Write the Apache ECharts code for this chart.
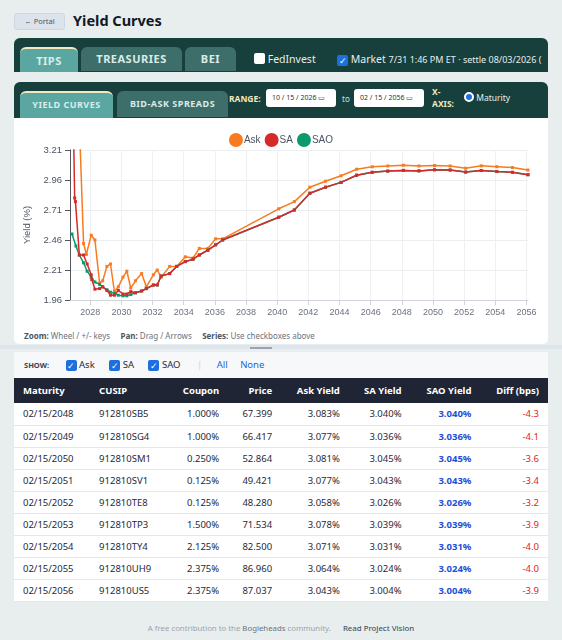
<!DOCTYPE html>
<html><head><meta charset="utf-8">
<script src="https://cdn.jsdelivr.net/npm/echarts@6/dist/echarts.min.js"></script>
<style>
*{box-sizing:border-box}
body{margin:0;width:562px;height:640px;background:#e8eeee;font-family:"Noto Sans",sans-serif;position:relative;overflow:hidden;color:#1f2937}
.abs{position:absolute}
.bar{background:#173f3b;border-radius:6px 6px 0 0}
.tab{position:absolute;color:#d8ece9;font-weight:bold;text-align:center;border-radius:6px 6px 0 0;background:#3e6e6a;letter-spacing:0.5px}
.tab.on{background:#5aa7a2;border-top:2px solid #f3e7c0}
.cb{display:inline-block;width:11px;height:11px;border-radius:2px;vertical-align:-1px}
table{border-collapse:collapse;width:534px;font-size:9.5px}
th{background:#1f2535;color:#fff;font-weight:bold;height:25px;padding:0 9px}
td{height:22.1px;padding:0 9px;border-bottom:1px solid #e5e7eb;background:#fff}
.r{text-align:right}.l{text-align:left}
</style></head><body>
<div class="abs" style="left:14px;top:13px;width:51px;height:17px;background:#dde3ea;border:1px solid #cfd6df;border-radius:3px;font-size:7.5px;color:#4b5563;text-align:center;line-height:15px">← Portal</div>
<div class="abs" style="left:73px;top:10px;font-size:14.5px;font-weight:bold;color:#111827">Yield Curves</div>

<div class="abs bar" style="left:14px;top:38px;width:534px;height:34px"></div>
<div class="tab on" style="left:20px;top:47px;width:58px;height:25px;font-size:11px;line-height:23px">TIPS</div>
<div class="tab" style="left:81px;top:47px;width:101px;height:24px;font-size:11px;line-height:24px">TREASURIES</div>
<div class="tab" style="left:185px;top:47px;width:51px;height:24px;font-size:11px;line-height:24px">BEI</div>
<div class="abs" style="left:254px;top:52px;font-size:10.5px;color:#e5efee"><span class="cb" style="background:#fff"></span> FedInvest</div>
<div class="abs" style="left:337px;top:52px;font-size:10.5px;color:#e5efee;white-space:nowrap"><span class="cb" style="background:#1d6fe0;color:#fff;font-size:9px;line-height:11px;text-align:center">✓</span> Market <span style="font-size:9px">7/31 1:46 PM ET · settle 08/03/2026 (</span></div>

<div class="abs bar" style="left:14px;top:82px;width:534px;height:36px"></div>
<div class="tab on" style="left:20px;top:91px;width:93px;height:27px;font-size:9px;line-height:24px">YIELD CURVES</div>
<div class="tab" style="left:117px;top:91px;width:111px;height:26px;font-size:9px;line-height:26px">BID-ASK SPREADS</div>
<div class="abs" style="left:229px;top:93px;font-size:8.5px;font-weight:bold;color:#f3e7c0">RANGE:</div>
<div class="abs" style="left:266px;top:89px;width:70px;height:18px;background:#fff;border-radius:3px;font-size:7px;line-height:18px;padding-left:6px;color:#333">10 / 15 / 2026 ▭</div>
<div class="abs" style="left:342px;top:93px;font-size:8px;color:#cfe0dd">to</div>
<div class="abs" style="left:354px;top:89px;width:70px;height:18px;background:#fff;border-radius:3px;font-size:7px;line-height:18px;padding-left:6px;color:#333">02 / 15 / 2056 ▭</div>
<div class="abs" style="left:432px;top:86px;font-size:8.5px;font-weight:bold;color:#f3e7c0;line-height:12px">X-<br>AXIS:</div>
<div class="abs" style="left:464px;top:92px;font-size:8.5px;color:#e5efee;white-space:nowrap"><span style="display:inline-block;width:10px;height:10px;border-radius:50%;background:#1d6fe0;border:2px solid #fff;vertical-align:-1px"></span> Maturity</div>

<div class="abs" style="left:14px;top:118px;width:534px;height:226px;background:#fff;border-radius:0 0 5px 5px"></div>
<div id="c" class="abs" style="left:14px;top:118px;width:534px;height:205px"></div>
<div class="abs" style="left:24px;top:330px;font-size:8px;color:#6b7280;white-space:nowrap"><b style="color:#4b5563">Zoom:</b> Wheel / +/- keys &nbsp;&nbsp;&nbsp; <b style="color:#4b5563">Pan:</b> Drag / Arrows &nbsp;&nbsp;&nbsp; <b style="color:#4b5563">Series:</b> Use checkboxes above</div>
<div class="abs" style="left:0;top:345px;width:562px;height:4px;background:#dfe5ec"></div>
<div class="abs" style="left:250px;top:347px;width:22px;height:2px;background:#9ca3af"></div>

<div class="abs" style="left:14px;top:352px;width:534px;height:26px;background:#f6f8fa;font-size:9.5px;line-height:26px;white-space:nowrap">
<span style="margin-left:10px;font-size:7.5px;font-weight:bold;color:#374151">SHOW:</span>
<span style="margin-left:14px" class="cb"></span> Ask
<span style="margin-left:12px" class="cb"></span> SA
<span style="margin-left:12px" class="cb"></span> SAO
<span style="margin-left:14px;color:#d1d5db">|</span>
<span style="margin-left:12px;color:#1d5fe0">All</span>
<span style="margin-left:10px;color:#1d5fe0">None</span>
</div>
<div class="abs" style="left:14px;top:378px" id="tbl"></div>
<div class="abs" style="left:0;top:623px;width:562px;text-align:center;font-size:7.8px;color:#9ca3af;white-space:nowrap">A free contribution to the <span style="color:#6b7280">Bogleheads</span> community. &nbsp;&nbsp;&nbsp;&nbsp; <span style="color:#4b5563;font-weight:500">Read Project Vision</span></div>

<script>
document.querySelectorAll('.cb').forEach(function(e,i){ if(i>1){e.style.background='#1d6fe0';e.style.color='#fff';e.style.fontSize='9px';e.style.lineHeight='11px';e.style.textAlign='center';e.textContent='✓';}});

// Chart data: [maturity (year), yield %]
var askData = [[2026.83,5.2],[2027.57,2.43],[2027.75,2.34],[2028.06,2.50],[2028.3,2.46],[2028.6,2.10],[2028.8,2.12],[2029.07,2.24],[2029.3,2.26],[2029.55,2.03],[2029.8,2.07],[2030.1,2.15],[2030.35,2.20],[2030.6,2.06],[2030.9,2.12],[2031.3,2.18],[2031.6,2.07],[2032.05,2.17],[2032.3,2.21],[2032.55,2.15],[2033.1,2.24],[2033.55,2.24],[2034.1,2.32],[2034.6,2.31],[2035.0,2.39],[2035.55,2.39],[2036.05,2.47],[2036.5,2.47],[2040.1,2.72],[2041.1,2.78],[2042.1,2.90],[2043.1,2.95],[2044.1,2.995],[2045.1,3.05],[2046.1,3.07],[2047.1,3.077],[2048.1,3.083],[2049.1,3.077],[2050.1,3.081],[2051.1,3.077],[2052.1,3.058],[2053.1,3.078],[2054.1,3.071],[2055.1,3.064],[2056.1,3.043]];
var saData = [[2026.83,4.1],[2027.0,2.81],[2027.05,2.78],[2027.3,2.335],[2027.57,2.335],[2027.8,2.26],[2028.06,2.17],[2028.1,2.13],[2028.3,2.05],[2028.6,2.055],[2028.8,2.07],[2029.07,2.04],[2029.3,2.00],[2029.55,2.00],[2029.8,2.04],[2030.1,2.01],[2030.35,2.01],[2030.6,2.03],[2030.9,2.02],[2031.3,2.035],[2031.6,2.055],[2032.05,2.085],[2032.3,2.085],[2032.55,2.16],[2033.1,2.18],[2033.55,2.24],[2034.1,2.28],[2034.6,2.30],[2035.0,2.335],[2035.55,2.375],[2036.05,2.42],[2036.5,2.46],[2040.1,2.65],[2041.1,2.71],[2042.1,2.85],[2043.1,2.90],[2044.1,2.94],[2045.1,3.00],[2046.1,3.024],[2047.1,3.034],[2048.1,3.040],[2049.1,3.036],[2050.1,3.045],[2051.1,3.043],[2052.1,3.026],[2053.1,3.039],[2054.1,3.031],[2055.1,3.024],[2056.1,3.004]];
var saoData = [[2026.83,2.51],[2027.08,2.41],[2027.3,2.335],[2027.57,2.27],[2027.8,2.20],[2028.06,2.15],[2028.3,2.11],[2028.6,2.09],[2028.8,2.07],[2029.07,2.045],[2029.3,2.025],[2029.55,2.015],[2029.8,2.00],[2030.1,1.995],[2030.35,1.995],[2030.6,2.005],[2030.9,2.02],[2031.3,2.035],[2031.6,2.055],[2032.05,2.085],[2032.3,2.085],[2032.55,2.16],[2033.1,2.18],[2033.55,2.24],[2034.1,2.28],[2034.6,2.30],[2035.0,2.335],[2035.55,2.375],[2036.05,2.42],[2036.5,2.46],[2040.1,2.65],[2041.1,2.71],[2042.1,2.85],[2043.1,2.90],[2044.1,2.94],[2045.1,3.00],[2046.1,3.024],[2047.1,3.034],[2048.1,3.040],[2049.1,3.036],[2050.1,3.045],[2051.1,3.043],[2052.1,3.026],[2053.1,3.039],[2054.1,3.031],[2055.1,3.024],[2056.1,3.004]];
var xTicks = [2028,2030,2032,2034,2036,2038,2040,2042,2044,2046,2048,2050,2052,2054,2056];

// Table data
var maturities = ['02/15/2048','02/15/2049','02/15/2050','02/15/2051','02/15/2052','02/15/2053','02/15/2054','02/15/2055','02/15/2056'];
var cusips = ['912810SB5','912810SG4','912810SM1','912810SV1','912810TE8','912810TP3','912810TY4','912810UH9','912810US5'];
var coupons = ['1.000%','1.000%','0.250%','0.125%','0.125%','1.500%','2.125%','2.375%','2.375%'];
var prices = ['67.399','66.417','52.864','49.421','48.280','71.534','82.500','86.960','87.037'];
var askYields = ['3.083%','3.077%','3.081%','3.077%','3.058%','3.078%','3.071%','3.064%','3.043%'];
var saYields = ['3.040%','3.036%','3.045%','3.043%','3.026%','3.039%','3.031%','3.024%','3.004%'];
var saoYields = ['3.040%','3.036%','3.045%','3.043%','3.026%','3.039%','3.031%','3.024%','3.004%'];
var diffs = ['-4.3','-4.1','-3.6','-3.4','-3.2','-3.9','-4.0','-4.0','-3.9'];

var h='<table><tr><th class="l">Maturity</th><th class="l">CUSIP</th><th class="r">Coupon</th><th class="r">Price</th><th class="r">Ask Yield</th><th class="r">SA Yield</th><th class="r">SAO Yield</th><th class="r">Diff (bps)</th></tr>';
for(var i=0;i<maturities.length;i++){
 h+='<tr><td>'+maturities[i]+'</td><td>'+cusips[i]+'</td><td class="r">'+coupons[i]+'</td><td class="r">'+prices[i]+'</td><td class="r">'+askYields[i]+'</td><td class="r">'+saYields[i]+'</td><td class="r" style="color:#1d4ed8;font-weight:bold">'+saoYields[i]+'</td><td class="r" style="color:#dc2626">'+diffs[i]+'</td></tr>';
}
document.getElementById('tbl').innerHTML=h+'</table>';

var chart = echarts.init(document.getElementById('c'));
function s(name,data,color,z){return {name:name,type:'line',data:data,z:z,symbol:'rect',symbolSize:3,showSymbol:true,lineStyle:{width:1.5,color:color},itemStyle:{color:color},clip:true,animation:false};}
chart.setOption({
 animation:false,
 legend:{top:10,left:'center',icon:'circle',itemWidth:14,itemHeight:14,itemGap:4,textStyle:{fontSize:10,color:'#4b5563',padding:[0,0,0,-4]},data:['Ask','SA','SAO']},
 grid:{left:56,right:20,top:32,bottom:23},
 xAxis:{type:'value',min:2026.7,max:2056.1,
  axisLine:{lineStyle:{color:'#d1d5db'}},
  axisTick:{show:true,customValues:xTicks,lineStyle:{color:'#d1d5db'}},
  axisLabel:{customValues:xTicks,fontSize:9,color:'#6b7280',formatter:function(v){return String(Math.round(v));}},
  splitLine:{show:true,lineStyle:{color:'#eef0f3'}}},
 yAxis:{type:'value',min:1.96,max:3.21,interval:0.25,name:'Yield (%)',nameLocation:'middle',nameGap:32,nameTextStyle:{fontSize:9.5,color:'#4b5563'},
  axisLabel:{fontSize:9.5,color:'#4b5563',formatter:function(v){return v.toFixed(2);}},
  splitLine:{lineStyle:{color:'#eceef1'}}},
 series:[s('Ask',askData,'#f97a1f',2),s('SAO',saoData,'#0a9a6b',3),s('SA',saData,'#d62a2a',4)]
});
</script>
</body></html>
